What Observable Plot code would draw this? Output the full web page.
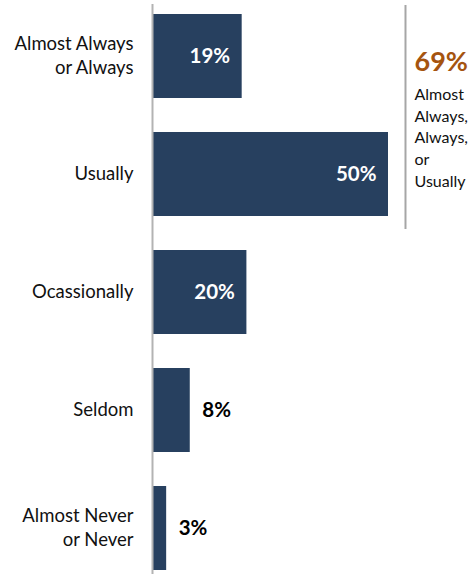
<!DOCTYPE html>
<html>
<head>
<meta charset="utf-8">
<script src="https://cdn.jsdelivr.net/npm/d3@7"></script>
<script src="https://cdn.jsdelivr.net/npm/@observablehq/plot@0.6"></script>
<style>
  html, body { margin: 0; padding: 0; background: #fff; }
  svg { display: block; }
</style>
</head>
<body>
<div id="chart"></div>
<script>
const categories = ["Almost Always\nor Always", "Usually", "Ocassionally", "Seldom", "Almost Never\nor Never"];
const values = [19, 50, 20, 8, 3];
const insideThreshold = 15;
const summaryCategories = categories.slice(0, 2);
const summaryLabel = "Almost\nAlways,\nAlways,\nor\nUsually";
const summaryX = 53.6;

const data = categories.map((c, i) => ({category: c, value: values[i]}));
const summaryTotal = d3.sum(values.slice(0, 2));

const font = "Lato, 'Open Sans', sans-serif";

const plot = Plot.plot({
  width: 473,
  height: 574,
  marginLeft: 152,
  marginRight: 85,
  marginTop: 4,
  marginBottom: 0,
  style: {fontFamily: font, background: "#fff"},
  x: {domain: [0, 50], axis: null},
  y: {domain: categories, range: [10, 574], paddingInner: 0.292, paddingOuter: 0.02, label: null},
  marks: [
    Plot.barX(data, {y: "category", x: "value", fill: "#27405f"}),
    Plot.ruleX([0], {stroke: "#b3b3b3", strokeWidth: 2}),
    Plot.axisY({tickSize: 0, tickPadding: 19, fontSize: 18.5, fill: "#111", lineHeight: 1.3, dy: -2, label: null}),
    Plot.text(data.filter(d => d.value >= insideThreshold), {
      y: "category", x: "value", text: d => d.value + "%",
      textAnchor: "end", dx: -12, fill: "white", fontWeight: "bold", fontSize: 20.5
    }),
    Plot.text(data.filter(d => d.value < insideThreshold), {
      y: "category", x: "value", text: d => d.value + "%",
      textAnchor: "start", dx: 12, fill: "#000", fontWeight: "bold", fontSize: 20.5
    }),
    Plot.ruleX([summaryX], {y1: [summaryCategories[0]], y2: [summaryCategories[1]], stroke: "#a6a6a6", strokeWidth: 2, insetTop: -9, insetBottom: -13}),
    Plot.text([summaryTotal + "%"], {
      x: summaryX, y: [summaryCategories[0]], text: d => d, textAnchor: "start",
      dx: 9, dy: 6, fill: "#a5540f", fontWeight: "bold", fontSize: 27
    }),
    Plot.text([summaryLabel], {
      x: summaryX, y: [summaryCategories[0]], text: d => d, textAnchor: "start",
      lineAnchor: "top", dx: 9, dy: 28, fill: "#111", fontSize: 16, lineHeight: 1.36
    })
  ]
});
document.getElementById("chart").appendChild(plot);
</script>
</body>
</html>
